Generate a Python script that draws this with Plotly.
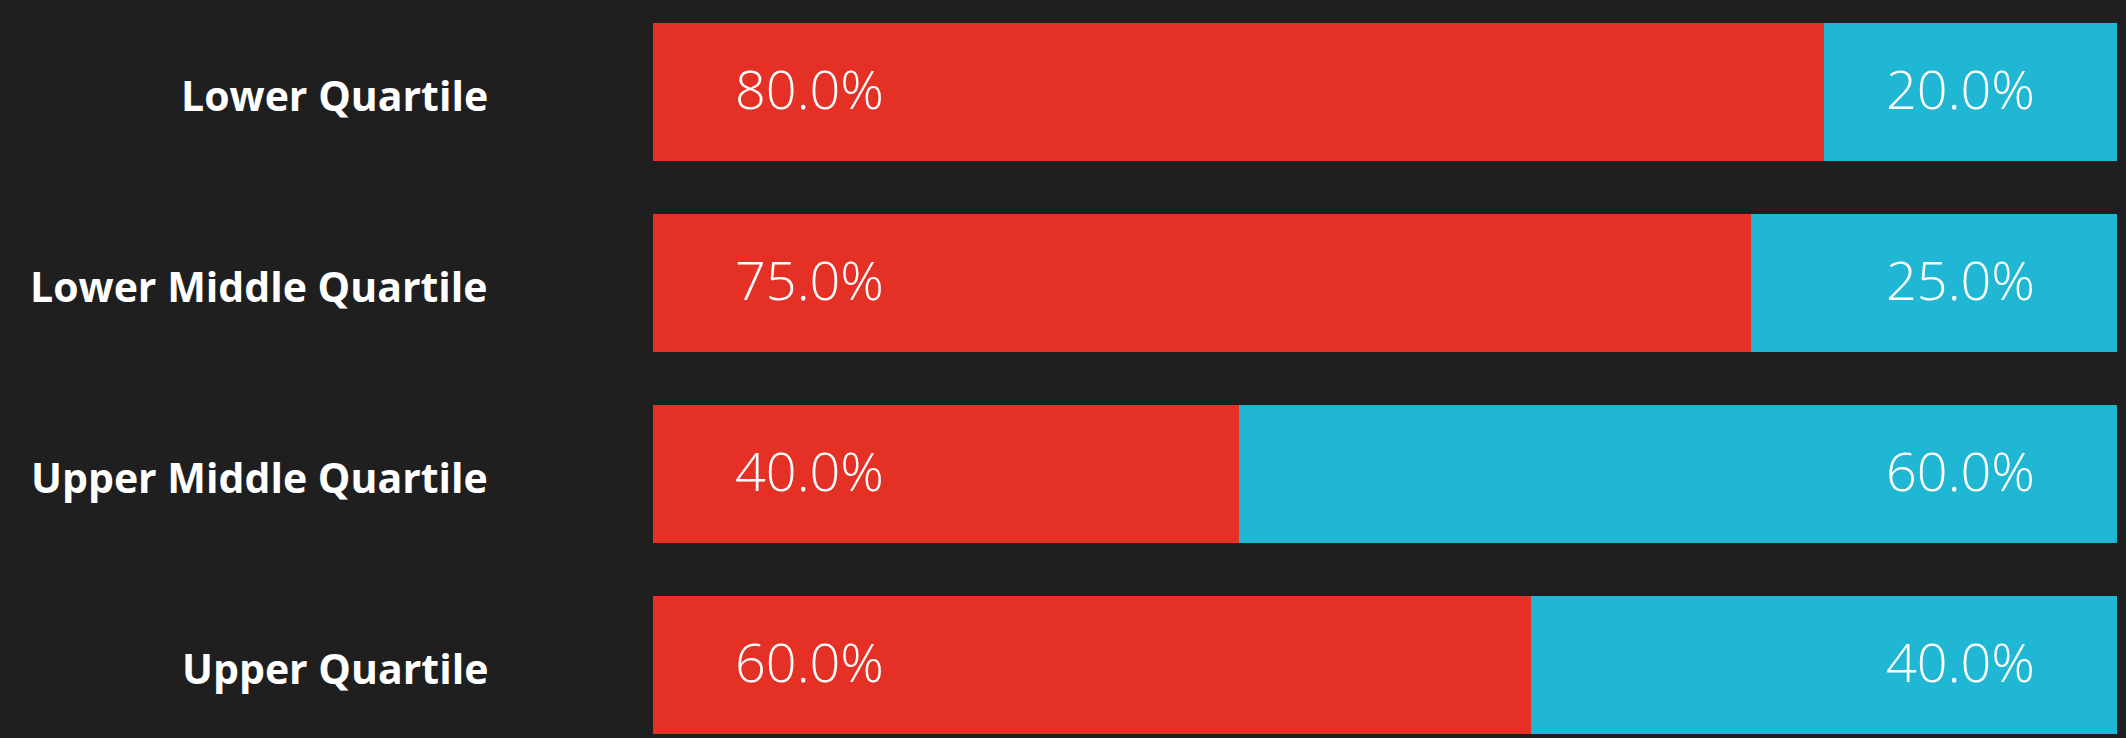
import plotly.graph_objects as go

categories = ["Lower Quartile", "Lower Middle Quartile", "Upper Middle Quartile", "Upper Quartile"]
female = [80.0, 75.0, 40.0, 60.0]
male = [20.0, 25.0, 60.0, 40.0]

RED = "#E53026"
BG = "#1F1F1F"
BLUE = "#20B7D5"

fig = go.Figure()
fig.add_trace(go.Bar(y=categories, x=female, orientation="h", marker=dict(color=RED, line=dict(width=0)),
                     hoverinfo="skip"))
fig.add_trace(go.Bar(y=categories, x=male, orientation="h", marker=dict(color=BLUE, line=dict(width=0)),
                     hoverinfo="skip"))

lblfont = dict(family="Open Sans", size=54, color="white", weight=300)
catfont = dict(family="Open Sans", size=41, color="white", weight=700)
for c, f, m in zip(categories, female, male):
    fig.add_annotation(x=0, y=c, text=f"{f:.1f}%", showarrow=False, xanchor="left", xshift=80,
                       font=lblfont, yshift=4)
    fig.add_annotation(x=f + m, y=c, text=f"{m:.1f}%", showarrow=False, xanchor="right", xshift=-80,
                       font=lblfont, yshift=4)
    fig.add_annotation(x=0, xref="paper", y=c, text=f"<b>{c}</b>", showarrow=False, xanchor="right",
                       xshift=-163, yshift=-3, font=catfont)

fig.update_layout(
    barmode="stack", bargap=0.28, showlegend=False,
    width=2126, height=738,
    paper_bgcolor=BG, plot_bgcolor=BG,
    margin=dict(l=653, r=9, t=0, b=0),
    xaxis=dict(range=[0, 100], visible=False, fixedrange=True),
    yaxis=dict(type="category", range=[3.382, -0.4817], showgrid=False, zeroline=False,
               ticks="", showticklabels=False),
)
fig.write_html("out.html", config={"displayModeBar": False},
               post_script="document.body.style.margin='0';document.body.style.background='#1F1F1F';document.body.style.overflow='hidden';")
